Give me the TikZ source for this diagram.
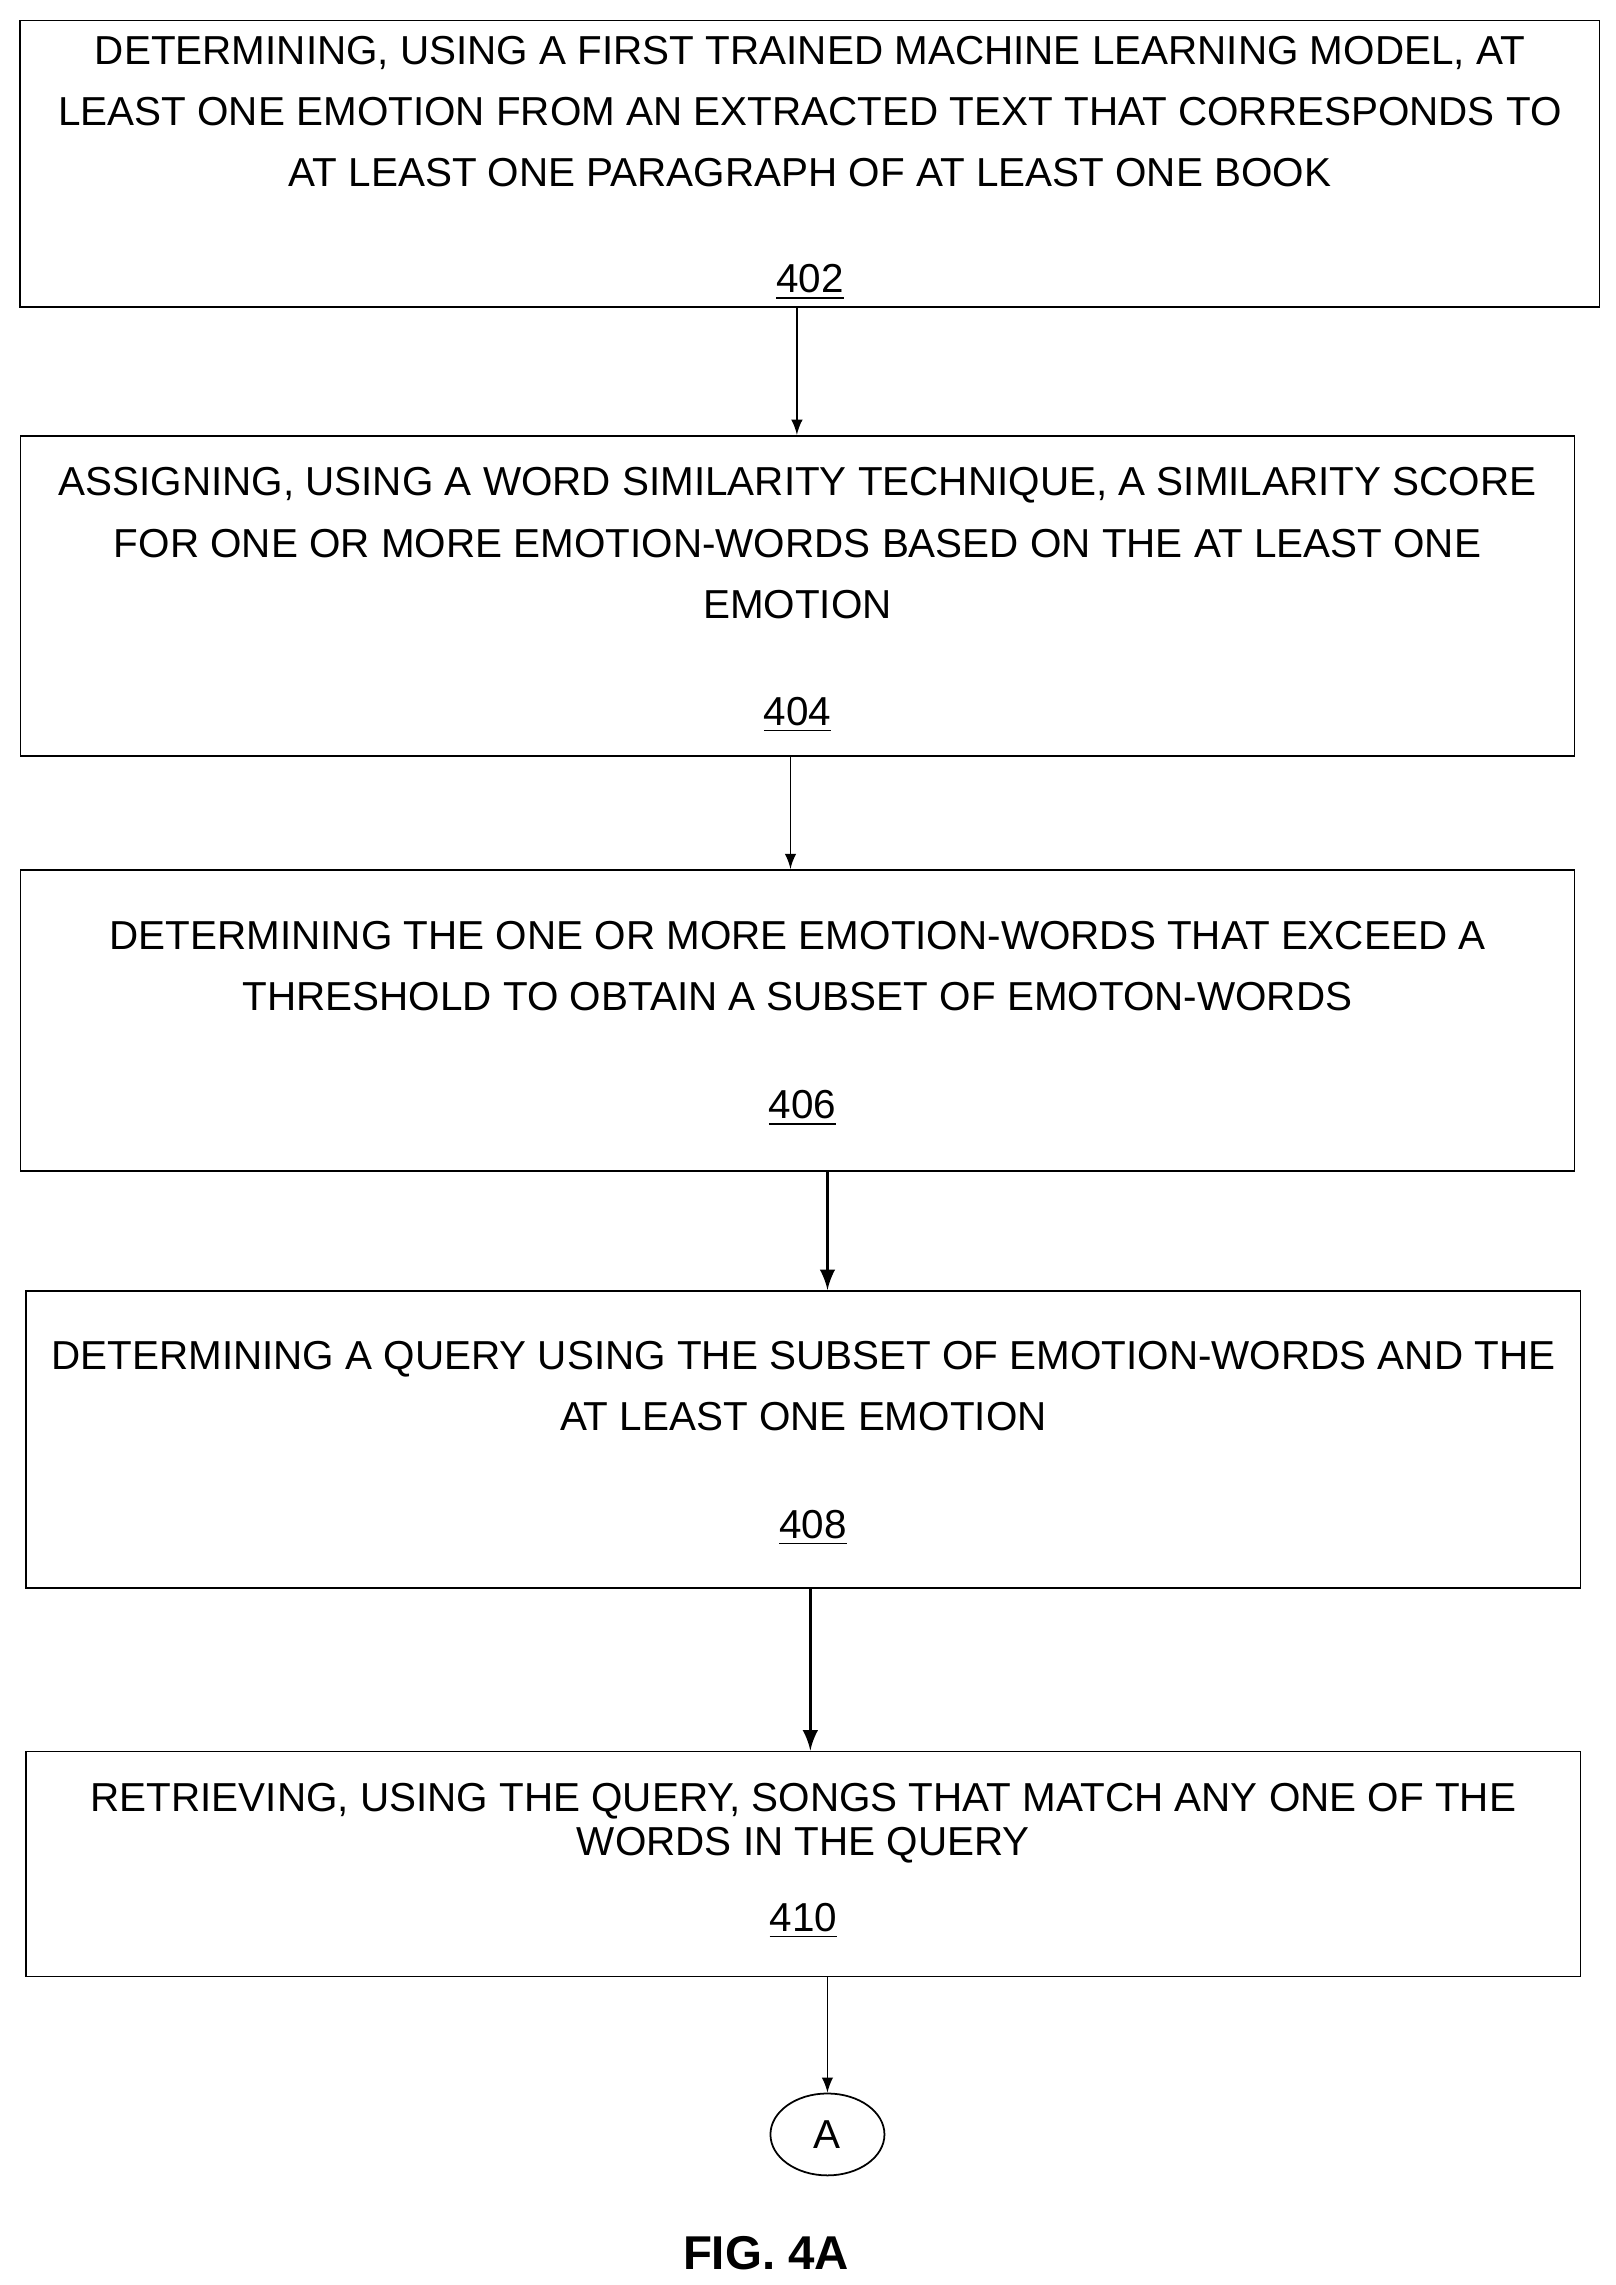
\documentclass[tikz,border=0pt]{standalone}
\usepackage{fontspec}
\setmainfont{Liberation Sans}
\usetikzlibrary{arrows}
\usetikzlibrary{shapes.geometric}

\begin{document}
\begin{tikzpicture}[x=0.01462cm, y=-0.01462cm,
    box/.style = {draw, line width=0.5pt, inner sep=0pt, minimum width=15.54cm},
    steptext/.style = {align=center, font=\fontsize{11.5}{17.4}\selectfont},
    num/.style = {font=\fontsize{11.5}{13}\selectfont},
    thin arrow/.style = {-latex, line width=0.5pt},
    thick arrow/.style = {-latex, line width=1pt}]
    \useasboundingbox (0,0) rectangle (1105,1563);

    % the step boxes
    \node [box, minimum width=15.79cm, minimum height=2.866cm] (b1) at (554,112) {};
    \node [box, minimum height=3.202cm] (b2) at (545.5,407.5) {};
    \node [box, minimum height=3.012cm] (b3) at (545.5,698) {};
    \node [box, minimum height=2.968cm] (b4) at (549.5,984.5) {};
    \node [box, minimum height=2.251cm] (b5) at (549.5,1275) {};
    \node [draw, ellipse, line width=0.5pt, minimum width=1.14cm, minimum height=0.819cm,
        inner sep=0pt, font=\fontsize{11.5}{13}\selectfont] (A) at (566,1460) {A};

    % texts
    \node [steptext] (t1) at (554,76.5) {DETERMINING, USING A FIRST TRAINED MACHINE LEARNING MODEL, AT\\
        LEAST ONE EMOTION FROM AN EXTRACTED TEXT THAT CORRESPONDS TO\\
        AT LEAST ONE PARAGRAPH OF AT LEAST ONE BOOK};
    \node [num] (n1) at (554,193) {\underline{402}};
    \node [steptext] (t2) at (545.5,371.5) {ASSIGNING, USING A WORD SIMILARITY TECHNIQUE, A SIMILARITY SCORE\\
        FOR ONE OR MORE EMOTION-WORDS BASED ON THE AT LEAST ONE\\
        EMOTION};
    \node [num] (n2) at (545.5,489) {\underline{404}};
    \node [steptext] (t3) at (545.5,661) {DETERMINING THE ONE OR MORE EMOTION-WORDS THAT EXCEED A\\
        THRESHOLD TO OBTAIN A SUBSET OF EMOTON-WORDS};
    \node [num] (n3) at (549,758) {\underline{406}};
    \node [steptext] (t4) at (549.5,948) {DETERMINING A QUERY USING THE SUBSET OF EMOTION-WORDS AND THE\\
        AT LEAST ONE EMOTION};
    \node [num] (n4) at (556,1045) {\underline{408}};
    \node [steptext, font=\fontsize{11.5}{12.6}\selectfont] (t5) at (549.5,1247) {RETRIEVING, USING THE QUERY, SONGS THAT MATCH ANY ONE OF THE\\
        WORDS IN THE QUERY};
    \node [num] (n5) at (549.5,1314) {\underline{410}};

    \node [font=\bfseries\fontsize{13.5}{15}\selectfont] (fig) at (524,1541) {FIG. 4A};

    % arrows
    \draw [thin arrow] ([xshift=-0.13cm]b1.south) -- ([xshift=-0.13cm]b1.south |- b2.north);
    \draw [thin arrow] ([xshift=-0.07cm]b2.south) -- ([xshift=-0.07cm]b2.south |- b3.north);
    \draw [thick arrow] ([xshift=0.3cm]b3.south) -- ([xshift=0.3cm]b3.south |- b4.north);
    \draw [thick arrow] ([xshift=0.07cm]b4.south) -- ([xshift=0.07cm]b4.south |- b5.north);
    \draw [thin arrow] (b5.south -| A) -- (A.north);
\end{tikzpicture}
\end{document}
